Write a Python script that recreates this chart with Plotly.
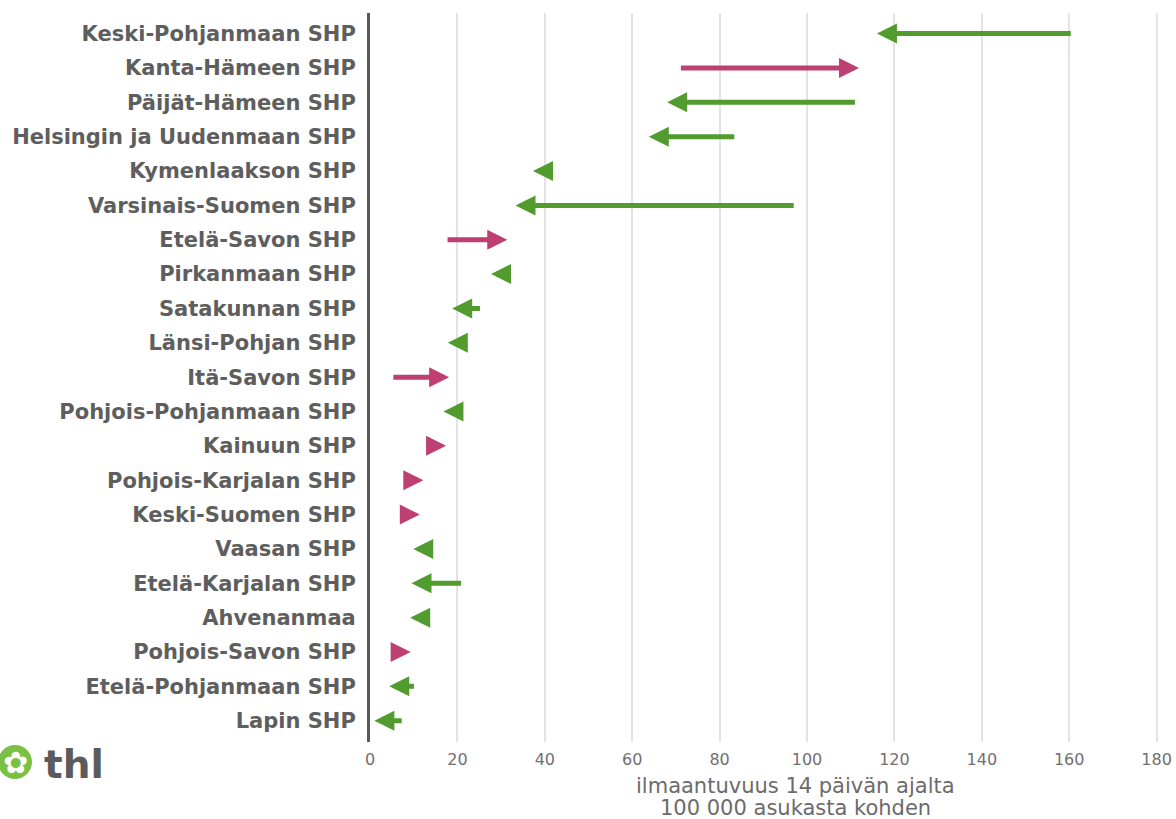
import plotly.graph_objects as go

regions = [
    "Keski-Pohjanmaan SHP", "Kanta-Hämeen SHP", "Päijät-Hämeen SHP",
    "Helsingin ja Uudenmaan SHP", "Kymenlaakson SHP", "Varsinais-Suomen SHP",
    "Etelä-Savon SHP", "Pirkanmaan SHP", "Satakunnan SHP", "Länsi-Pohjan SHP",
    "Itä-Savon SHP", "Pohjois-Pohjanmaan SHP", "Kainuun SHP",
    "Pohjois-Karjalan SHP", "Keski-Suomen SHP", "Vaasan SHP",
    "Etelä-Karjalan SHP", "Ahvenanmaa", "Pohjois-Savon SHP",
    "Etelä-Pohjanmaan SHP", "Lapin SHP",
]
# incidence per 100 000, previous period (arrow tail) and latest period (arrow head)
previous = [160.7, 70.8, 111.3, 83.7, 40.5, 97.3, 17.4, 30.5, 25.5, 20.8,
            5.0, 19.8, 13.8, 8.8, 8.0, 14.6, 21.2, 12.4, 5.0, 10.4, 7.6]
latest = [116.0, 111.9, 68.0, 63.8, 37.3, 33.3, 31.4, 27.7, 18.8, 17.8,
          18.1, 16.8, 17.4, 12.2, 11.4, 9.9, 9.5, 9.2, 9.3, 4.4, 1.0]
x_ticks = [0, 20, 40, 60, 80, 100, 120, 140, 160, 180]

GREEN = "#519b2f"
PINK = "#be3f72"
W, H = 1176, 819
L, R, T, B = 370, 0, 13, 77

fig = go.Figure()
fig.add_trace(go.Scatter(x=[None], y=[None], showlegend=False, hoverinfo="skip"))

for i, (p, c) in enumerate(zip(previous, latest)):
    col = PINK if c > p else GREEN
    fig.add_annotation(
        x=c, y=i, ax=p, ay=i, xref="x", yref="y", axref="x", ayref="y",
        text="", showarrow=True, arrowhead=2, arrowsize=0.8, arrowwidth=5,
        arrowcolor=col, standoff=0, startstandoff=0,
    )

pw = W - L - R
ph = H - T - B
def px(xp):
    return (xp - L) / pw
def py(yp):
    return (H - B - yp) / ph

# axis title (two lines)
fig.add_annotation(x=px(795), y=py(786), xref="paper", yref="paper",
                   text="ilmaantuvuus 14 päivän ajalta", showarrow=False,
                   font=dict(family="DejaVu Sans", size=21, color="#6b6b6b"),
                   xanchor="center", yanchor="middle")
fig.add_annotation(x=px(795), y=py(808), xref="paper", yref="paper",
                   text="100 000 asukasta kohden", showarrow=False,
                   font=dict(family="DejaVu Sans", size=21, color="#6b6b6b"),
                   xanchor="center", yanchor="middle")

# thl logo
fig.add_shape(type="circle", xref="paper", yref="paper",
              x0=px(-2), x1=px(32), y0=py(779), y1=py(745),
              fillcolor="#7ac143", line=dict(width=0))
fig.add_annotation(x=px(15), y=py(762), xref="paper", yref="paper",
                   text="✿", showarrow=False,
                   font=dict(family="DejaVu Sans", size=30, color="white"),
                   xanchor="center", yanchor="middle")
fig.add_annotation(x=px(42), y=py(765), xref="paper", yref="paper",
                   text="<b>thl</b>", showarrow=False,
                   font=dict(family="DejaVu Sans", size=39, color="#5b5b5b"),
                   xanchor="left", yanchor="middle")

fig.update_layout(
    width=W, height=H,
    margin=dict(l=L, r=R, t=T, b=B),
    paper_bgcolor="white", plot_bgcolor="white",
    showlegend=False,
    xaxis=dict(
        range=[0, (W - L - R) / 4.37], tickvals=x_ticks,
        showgrid=True, gridcolor="#e1e3e6", gridwidth=1.5,
        zeroline=False, showline=False, ticks="",
        tickfont=dict(family="DejaVu Sans", size=16, color="#707070"),
        ticklabelstandoff=6,
    ),
    yaxis=dict(
        range=[20.62, -0.6], tickvals=list(range(len(regions))),
        ticktext=[f"<b>{r}</b>" for r in regions],
        showgrid=False, zeroline=False, showline=True,
        linecolor="#5a5a5a", linewidth=3, ticks="",
        tickfont=dict(family="DejaVu Sans", size=21, color="#5e5e5e"),
        ticklabelstandoff=7,
    ),
)

fig.write_html("out.html", config={"displayModeBar": False},
               post_script="document.body.style.margin='0';document.body.style.overflow='hidden';")
